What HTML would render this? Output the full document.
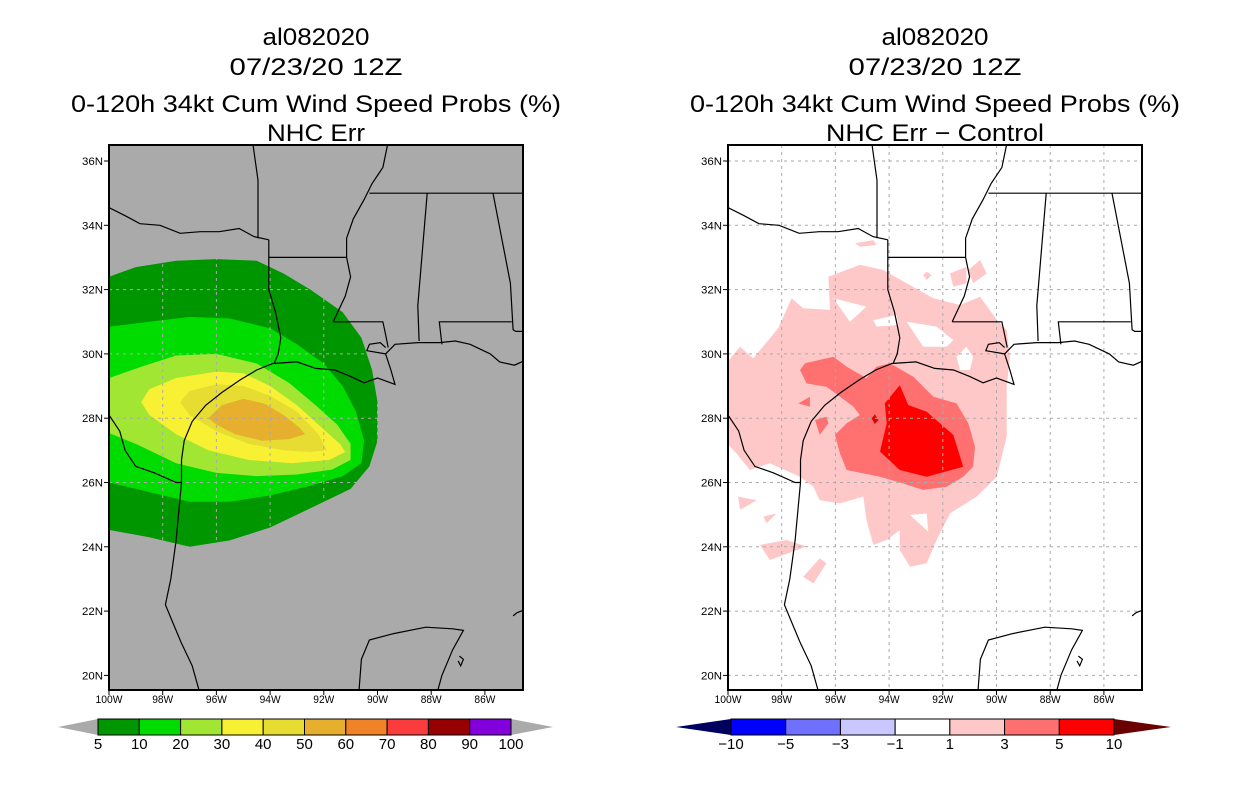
<!DOCTYPE html>
<html><head><meta charset="utf-8"><style>
html,body{margin:0;padding:0;background:#fff;}
svg{display:block;font-family:"Liberation Sans",sans-serif;}
</style></head><body>
<svg id="fig" width="1236" height="800" viewBox="0 0 1236 800" xmlns="http://www.w3.org/2000/svg"></svg>
<script>
// ---- data (W longitude, N latitude) ----
const latTicks=[36,34,32,30,28,26,24,22,20];
const lonTicks=[100,98,96,94,92,90,88,86];
const probLevels=['5','10','20','30','40','50','60','70','80','90','100'];
const probColors=['#009600','#00dc00','#a0e632','#f8f032','#e6dc32','#e6af2d','#f08228','#fa3c3c','#960000','#8200dc'];
const diffLevels=['\u221210','\u22125','\u22123','\u22121','1','3','5','10'];
const diffColors=['#0000ff','#7070ff','#c8c8ff','#ffffff','#ffc8c8','#ff7070','#ff0000'];
const prob5=[[100,32.4],[99,32.7],[97.5,32.9],[96,32.95],[94.5,32.9],[93.5,32.5],[92.5,32.0],[91.3,31.3],[90.6,30.5],[90.2,29.5],[90.0,28.5],[90.0,27.3],[90.3,26.5],[91.0,25.8],[92.5,25.2],[94.0,24.6],[95.5,24.2],[97,24.0],[98.5,24.3],[100.5,24.6]];
const prob10=[[100.5,30.8],[98.5,31.0],[97,31.15],[95.5,31.1],[94,30.8],[93,30.3],[92,29.7],[91.3,29.0],[90.8,28.2],[90.5,27.3],[90.6,26.6],[91.3,26.2],[92.5,25.9],[94,25.6],[95.5,25.4],[97,25.4],[98.5,25.7],[100.5,26.1]];
const prob20=[[100.5,29.1],[98.8,29.6],[97.5,29.95],[96,30.0],[94.5,29.7],[93.3,29.1],[92.3,28.4],[91.5,27.8],[91.0,27.2],[91.0,26.7],[91.7,26.4],[93,26.25],[94.5,26.2],[96,26.3],[97.5,26.6],[99,27.2],[100.5,27.7]];
const prob30=[[98.8,28.5],[98.5,28.9],[97.5,29.25],[96,29.45],[95,29.4],[94,29.0],[93,28.4],[92.2,27.8],[91.4,27.2],[91.2,26.95],[91.8,26.7],[93.2,26.6],[94.8,26.7],[96.3,27.0],[97.5,27.5],[98.5,28.1]];
const prob40=[[97.35,28.5],[97.0,28.85],[96,29.05],[95,29.0],[94,28.7],[93,28.2],[92.2,27.5],[91.9,27.0],[92.5,26.95],[93.5,27.0],[94.8,27.2],[96,27.6],[97,28.1]];
const prob50=[[96.3,28.0],[95.8,28.4],[95.0,28.6],[94.2,28.45],[93.5,28.1],[92.9,27.7],[92.7,27.5],[93.3,27.35],[94.3,27.3],[95.3,27.5],[96,27.8]];
const diff1=[[100.5,29.29],[99.55,30.22],[99.06,29.86],[98.13,30.8],[97.63,31.73],[97.2,31.42],[96.2,31.37],[96.26,32.4],[95.08,32.77],[94.22,32.61],[93.35,32.2],[92.35,31.73],[91.36,31.52],[90.61,31.78],[89.99,31.06],[89.62,30.74],[89.5,29.91],[89.62,28.98],[89.62,27.43],[89.99,26.18],[90.74,25.56],[91.73,25.04],[92.23,24.21],[92.6,23.49],[93.22,23.38],[93.6,23.9],[93.6,24.52],[94.09,24.21],[94.59,24.06],[94.84,24.83],[94.96,25.56],[95.83,25.35],[96.58,25.45],[96.82,25.87],[97.32,26.18],[98.44,26.6],[99.18,26.39],[99.68,26.9],[100.5,27.63]];
const diff1Holes=[
 [[96.08,31.73],[94.84,31.47],[95.46,31.0]],
 [[94.59,31.05],[93.72,31.21],[93.66,30.9],[94.47,30.85]],
 [[93.35,31.0],[92.23,30.85],[91.61,30.43],[91.86,30.22],[92.73,30.22]],
 [[91.49,29.91],[91.12,30.22],[90.87,29.91],[90.99,29.5],[91.36,29.5]],
 [[93.22,24.99],[92.6,25.04],[92.54,24.47]]];
const diff1Islands=[
 [[99.62,25.56],[98.93,25.45],[99.55,25.15]],
 [[98.68,24.94],[98.19,25.04],[98.56,24.73]],
 [[98.81,24.06],[97.82,24.21],[97.07,24.01],[98.44,23.59]],
 [[97.2,23.07],[96.58,23.64],[96.33,23.49],[96.82,22.86]],
 [[92.6,32.56],[92.42,32.45],[92.6,32.3],[92.73,32.45]],
 [[91.73,32.5],[91.12,32.71],[91.12,32.2],[91.61,32.09]],
 [[91.05,32.61],[90.61,32.92],[90.37,32.5],[90.87,32.2]],
 [[95.27,33.44],[94.59,33.54],[94.47,33.39],[95.08,33.33]]];
const diff3=[[97.32,29.5],[97.13,29.71],[96.08,29.91],[95.58,29.6],[94.84,29.24],[94.47,29.6],[93.97,29.71],[93.1,29.29],[92.35,28.67],[91.49,28.46],[91.05,27.84],[90.8,27.12],[90.87,26.49],[91.24,26.18],[91.86,25.87],[92.73,25.77],[93.47,25.97],[94.34,26.18],[95.58,26.39],[95.83,26.9],[96.02,27.48],[95.58,27.84],[95.09,28.1],[95.33,28.36],[96.33,28.98],[97.07,29.08]];
const diff3Islands=[[[97.38,28.46],[96.95,28.67],[96.95,28.36]],[[96.76,27.94],[96.33,28.05],[96.26,27.84],[96.58,27.48]]];
const diff5=[[94.16,28.46],[93.6,29.03],[93.29,28.41],[92.6,28.2],[91.61,27.48],[91.24,26.49],[92.6,26.18],[93.6,26.39],[94.34,26.96],[94.09,27.84]];
const diff10=[[94.65,27.99],[94.53,28.12],[94.4,27.94],[94.53,27.82]];
// basemap lines
const gulfCoast=[[84.5,29.8],[84.9,29.65],[85.45,29.75],[85.8,30.0],[86.55,30.3],[87.1,30.4],[87.7,30.35],[88.5,30.35],[89.35,30.3],[89.7,30.0],[89.5,29.5],[89.35,29.05],[90.0,29.25],[90.5,29.1],[91.0,29.3],[91.6,29.5],[92.3,29.55],[93.0,29.75],[93.9,29.7],[94.5,29.5],[95.1,29.2],[95.8,28.8],[96.4,28.4],[96.9,27.9],[97.2,27.3],[97.3,26.7],[97.3,26.0],[97.4,25.1],[97.5,24.2],[97.7,23.0],[97.9,22.2],[97.6,21.6],[97.3,21.0],[96.9,20.3],[96.6,19.4]];
const pontchartrain=[[89.7,30.0],[90.4,30.1],[90.3,30.3],[89.9,30.35],[89.7,30.2]];
const yucatan=[[90.7,19.4],[90.6,20.5],[90.3,21.1],[89.4,21.3],[88.2,21.5],[87.2,21.45],[86.8,21.4],[87.2,20.8],[87.6,20.0],[87.8,19.4]];
const cozumel=[[86.95,20.6],[86.8,20.5],[86.9,20.3],[87.0,20.45]];
const cuba=[[84.5,22.05],[84.8,21.95],[84.95,21.85]];
const rioGrande=[[100.5,28.6],[100,28.1],[99.6,27.6],[99.4,27.0],[99.0,26.5],[98.3,26.3],[97.5,26.0],[97.3,26.0]];
const redRiver=[[100.5,34.6],[100,34.55],[99.4,34.3],[98.85,34.05],[98.1,34.0],[97.35,33.75],[96.6,33.8],[95.9,33.8],[95.15,33.9],[94.6,33.65],[94.05,33.55]];
const arkWest=[[94.65,36.6],[94.45,35.4],[94.45,33.6]];
const texLa=[[94.05,33.55],[94.05,33.0],[94.05,32.0],[93.8,31.3],[93.6,30.5],[93.7,30.0],[93.85,29.7]];
const ar33=[[94.05,33.0],[91.15,33.0]];
const missRiver=[[89.6,36.6],[89.8,35.8],[90.2,35.3],[90.5,34.8],[90.9,34.2],[91.15,33.6],[91.15,33.0],[91.0,32.4],[91.2,31.8],[91.65,31.0]];
const la31=[[91.65,31.0],[89.8,31.0],[89.7,30.6],[89.6,30.2]];
const tn35=[[90.3,35.0],[84.5,35.0]];
const msal=[[88.15,35.0],[88.5,31.5],[88.45,30.4]];
const alga=[[85.7,35.0],[85.05,32.2],[84.95,30.75],[84.85,30.7],[84.5,30.7]];
const alfl=[[87.6,30.3],[87.7,31.0],[85.0,31.0]];
const basemap=[gulfCoast,pontchartrain,yucatan,cozumel,cuba,rioGrande,redRiver,arkWest,texLa,ar33,missRiver,la31,tn35,msal,alga,alfl];

const NS='http://www.w3.org/2000/svg';
const svg=document.getElementById('fig');
function mk(tag,attrs,parent){const e=document.createElementNS(NS,tag);for(const k in attrs)e.setAttribute(k,attrs[k]);(parent||svg).appendChild(e);return e;}
const FW=414,FH=545,TOP=145;
function xScale(x0,W){return x0+(100-W)*26.85;}
function yScale(N){return 161+(36-N)*32.15;}
function ptsStr(x0,arr){return arr.map(p=>xScale(x0,p[0]).toFixed(1)+','+yScale(p[1]).toFixed(1)).join(' ');}
function pathStr(x0,arr){return 'M'+arr.map(p=>xScale(x0,p[0]).toFixed(1)+' '+yScale(p[1]).toFixed(1)).join('L')+'Z';}
function txt(x,y,s,size,anchor,len,parent){const t=mk('text',{x:x,y:y,'font-size':size,'text-anchor':anchor||'middle',fill:'#000'},parent);if(len){t.setAttribute('textLength',len);t.setAttribute('lengthAdjust','spacingAndGlyphs');}t.textContent=s;return t;}

function panel(x0,idx,sub,subLen){
  const g=mk('g',{});
  
  
  const cx=x0+FW/2;
  let t=txt(cx,45,'al082020',24,'middle',107,g);
  
  
  t=txt(cx,75,'07/23/20 12Z',24,'middle',173,g);
  
  
  t=txt(cx,112,'0-120h 34kt Cum Wind Speed Probs (%)',24,'middle',490,g);
  
  
  t=txt(cx,141,sub,24,'middle',subLen,g);
  
  
  const cid='clip'+idx;
  const cp=mk('clipPath',{id:cid},g);mk('rect',{x:x0,y:TOP,width:FW,height:FH},cp);
  const m=mk('g',{'clip-path':'url(#'+cid+')'},g);
  
  
  const bg=mk('rect',{x:x0,y:TOP,width:FW,height:FH,fill:idx===0?'#aaaaaa':'#ffffff'},m);
  
  
  return {g:g,m:m};
}
function fillPoly(m,x0,arr,color,name){const p=mk('polygon',{points:ptsStr(x0,arr),fill:color},m);
  
  return p;}
function grid(m,x0){
  latTicks.forEach(N=>{const l=mk('line',{x1:x0,x2:x0+FW,y1:yScale(N),y2:yScale(N),stroke:'#aaaaaa','stroke-dasharray':'3,4'},m);
    
    });
  lonTicks.forEach(W=>{const l=mk('line',{x1:xScale(x0,W),x2:xScale(x0,W),y1:TOP,y2:TOP+FH,stroke:'#aaaaaa','stroke-dasharray':'3,4'},m);
    
    });
}
function base(m,x0){
  basemap.forEach(line=>{const l=mk('polyline',{points:ptsStr(x0,line),fill:'none',stroke:'#000','stroke-width':1.2},m);
    
    });
}
function frameAxes(g,x0){
  const f=mk('rect',{x:x0,y:TOP,width:FW,height:FH,fill:'none',stroke:'#000','stroke-width':2},g);
  
  
  latTicks.forEach(N=>{const y=yScale(N);
    const tk=mk('line',{x1:x0-5,x2:x0,y1:y,y2:y,stroke:'#000'},g);
    
    
    const t=txt(x0-6,y+4,N+'N',11,'end',21,g);
    
    });
  lonTicks.forEach(W=>{const x=xScale(x0,W);
    const tk=mk('line',{x1:x,x2:x,y1:TOP+FH,y2:TOP+FH+5,stroke:'#000'},g);
    
    
    const t=txt(x,703,W+'W',11,'middle',W>=100?27:21,g);
    
    });
}
function colorbar(colors,labels,x1,x2,leftCol,rightCol,tl,tr,name){
  const g=mk('g',{});
  
  
  const y=719,h=16,w=(x2-x1)/colors.length;
  const a=mk('polygon',{points:`${x1},${y} ${tl},${y+h/2} ${x1},${y+h}`,fill:leftCol},g);
  
  
  const b=mk('polygon',{points:`${x2},${y} ${tr},${y+h/2} ${x2},${y+h}`,fill:rightCol},g);
  
  
  colors.forEach((c,i)=>{const r=mk('rect',{x:x1+i*w,y:y,width:w,height:h,fill:c,stroke:'#000','stroke-width':1},g);
    
    });
  labels.forEach((s,i)=>{const t=txt(x1+i*w,749,s,15,'middle',null,g);
    
    });
}
// left panel
const L=panel(109,0,'NHC Err',98);
[prob5,prob10,prob20,prob30,prob40,prob50].forEach((a,i)=>fillPoly(L.m,109,a,probColors[i],'prob-contour-'+probLevels[i]));
grid(L.m,109);base(L.m,109);frameAxes(L.g,109);
// right panel
const R=panel(728,1,'NHC Err \u2212 Control',218);
const pp=mk('path',{d:pathStr(728,diff1)+diff1Holes.map(h=>pathStr(728,h)).join(''),fill:diffColors[4],'fill-rule':'evenodd'},R.m);


diff1Islands.forEach(a=>fillPoly(R.m,728,a,diffColors[4],'diff-contour-1-patch'));
fillPoly(R.m,728,diff3,diffColors[5],'diff-contour-3');
diff3Islands.forEach(a=>fillPoly(R.m,728,a,diffColors[5],'diff-contour-3-patch'));
fillPoly(R.m,728,diff5,diffColors[6],'diff-contour-5');
fillPoly(R.m,728,diff10,'#e00000','diff-contour-10');
grid(R.m,728);base(R.m,728);frameAxes(R.g,728);
colorbar(probColors,probLevels,98,511,'#aaaaaa','#aaaaaa',58,553,'prob-colorbar');
colorbar(diffColors,diffLevels,731,1114,'#000060','#6b0000',676,1171,'diff-colorbar');
</script>
</body></html>
